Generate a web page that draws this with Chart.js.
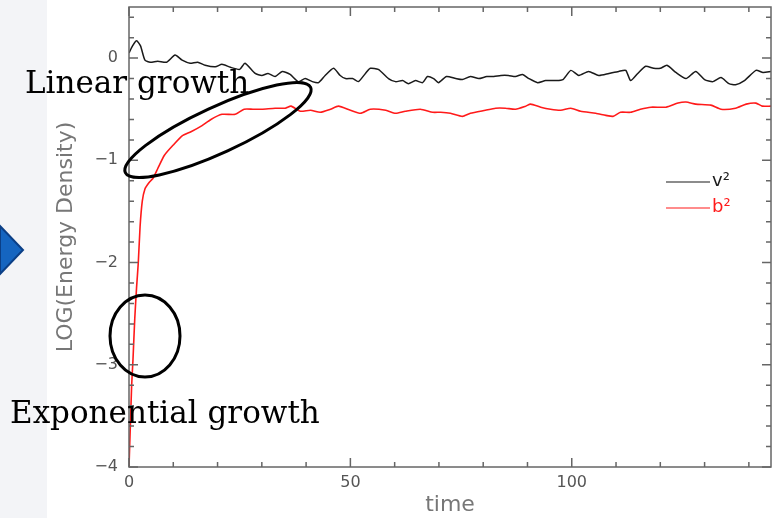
<!DOCTYPE html>
<html>
<head>
<meta charset="utf-8">
<script src="https://cdn.jsdelivr.net/npm/chart.js@4.4.0/dist/chart.umd.min.js"></script>
<style>
  html, body { margin: 0; padding: 0; background: #fff; }
</style>
</head>
<body>
<canvas id="chart" width="780" height="518"></canvas>
<script>
// data
const timeV = [0, 0.8, 1.7, 2.6, 3.6, 4.8, 6.5, 8.5, 10.4, 12, 13.8, 15.5, 17.2, 19.5, 21, 22.9, 25, 26.2, 28.5, 30,
  31.4, 33, 34.6, 36.4, 38.2, 39.8, 41.4, 42.8, 44.3, 46.2, 47.7, 48.9, 50.5, 51.8, 53.4, 54.5, 56.3, 58.6, 60.2, 61.8,
  63.1, 64.7, 66.3, 67.4, 68.8, 69.9, 71.7, 73.8, 75.3, 77.1, 79, 80.8, 82.4, 84, 85.7, 87.3, 88.9, 90.3, 92.3, 94.1,
  96.4, 98, 99.8, 101.6, 103.8, 106.1, 108.4, 110.6, 112.2, 113.3, 114.9, 116.7, 118.5, 120, 121.5, 123.5, 125.8, 128, 130, 131.9,
  133.7, 135.5, 137, 139, 141.6, 143.2, 145];
const energyV = [0.05, 0.12, 0.17, 0.12, -0.02, -0.04, -0.03, -0.04, 0.03, -0.02, -0.05, -0.04, -0.07, -0.085, -0.06, -0.09, -0.11, -0.05, -0.15, -0.17,
  -0.15, -0.18, -0.13, -0.16, -0.23, -0.2, -0.23, -0.24, -0.17, -0.1, -0.17, -0.2, -0.2, -0.23, -0.15, -0.1, -0.11, -0.2, -0.23, -0.22,
  -0.25, -0.22, -0.24, -0.18, -0.2, -0.24, -0.18, -0.2, -0.21, -0.18, -0.2, -0.18, -0.18, -0.17, -0.17, -0.18, -0.16, -0.2, -0.24, -0.22,
  -0.22, -0.21, -0.12, -0.17, -0.13, -0.17, -0.15, -0.13, -0.12, -0.22, -0.15, -0.08, -0.1, -0.1, -0.07, -0.14, -0.2, -0.13, -0.21, -0.23,
  -0.19, -0.25, -0.26, -0.22, -0.12, -0.14, -0.13];

const timeB = [0, 0.3, 0.6, 0.9, 1.3, 1.7, 2.1, 2.5, 3.0, 3.6, 4.5, 5.5, 6.5, 8, 10, 12, 14, 16.5, 18.5, 21,
  24, 26, 28, 30, 33, 35.3, 36.6, 38.7, 41, 43.2, 45.5, 47.3, 50, 52.3, 54.5, 58, 60.2, 62.4, 65.8, 68.6,
  70.4, 72.6, 75.3, 77.1, 80.5, 82.8, 85, 87.3, 89.6, 90.7, 93, 95.2, 97.5, 99.8, 102, 105.4, 107.7, 109.3, 111, 113.3,
  115.5, 117.9, 121.3, 124, 125.8, 128, 131.4, 133.7, 137, 139.4, 141.6, 143, 145];
const energyB = [-4.0, -3.6, -3.2, -2.95, -2.55, -2.25, -2.0, -1.65, -1.4, -1.28, -1.22, -1.17, -1.08, -0.95, -0.85, -0.76, -0.72, -0.66, -0.6, -0.55,
  -0.55, -0.5, -0.5, -0.5, -0.49, -0.49, -0.47, -0.52, -0.51, -0.53, -0.5, -0.47, -0.51, -0.54, -0.5, -0.51, -0.54, -0.52, -0.5, -0.53,
  -0.53, -0.54, -0.57, -0.54, -0.51, -0.49, -0.49, -0.5, -0.47, -0.45, -0.48, -0.5, -0.51, -0.49, -0.52, -0.54, -0.56, -0.57, -0.53, -0.53,
  -0.5, -0.48, -0.48, -0.44, -0.43, -0.45, -0.46, -0.5, -0.49, -0.45, -0.44, -0.47, -0.47];

const xTicks = [0, 50, 100];
const yTicks = [-4, -3, -2, -1, 0];
const seriesNames = ["v²", "b²"];
const seriesColors = ["#1a1a1a", "#ff1a1a"];
const notes = ["Linear growth", "Exponential growth"];

const axisColor = "#666";
const tickFont = { family: "DejaVu Sans", size: 16 };

function toPoints(xs, ys) {
  return xs.map((x, i) => ({ x: x, y: ys[i] }));
}

function noPad(s) {
  s.paddingTop = 0;
  s.paddingBottom = 0;
  s.paddingLeft = 0;
  s.paddingRight = 0;
}

// slide background bits on the left
const slideBack = {
  id: "slideBack",
  beforeDraw(chart) {
    const ctx = chart.ctx;
    ctx.save();
    ctx.fillStyle = "#f3f4f7";
    ctx.fillRect(0, 0, 47, chart.height);
    ctx.beginPath();
    ctx.moveTo(0, 226);
    ctx.lineTo(23, 250);
    ctx.lineTo(0, 274);
    ctx.closePath();
    ctx.fillStyle = "#1565c0";
    ctx.fill();
    ctx.strokeStyle = "#0b3f86";
    ctx.lineWidth = 2;
    ctx.stroke();
    ctx.restore();
  }
};

// IDL style frame with inward ticks on all sides
const frame = {
  id: "frame",
  afterDatasetsDraw(chart) {
    const ctx = chart.ctx;
    const { left, right, top, bottom } = chart.chartArea;
    const xs = chart.scales.x, ys = chart.scales.y;
    ctx.save();
    ctx.strokeStyle = axisColor;
    ctx.lineWidth = 1.5;
    ctx.strokeRect(left, top, right - left, bottom - top);
    ctx.beginPath();
    for (let t = 0; t <= xs.max; t += 10) {
      const px = xs.getPixelForValue(t);
      const len = t % 50 === 0 ? 9 : 5;
      ctx.moveTo(px, bottom); ctx.lineTo(px, bottom - len);
      ctx.moveTo(px, top); ctx.lineTo(px, top + len);
    }
    for (let k = -20; k <= 2; k++) {
      const py = ys.getPixelForValue(k / 5);
      const len = k % 5 === 0 ? 9 : 5;
      ctx.moveTo(left, py); ctx.lineTo(left + len, py);
      ctx.moveTo(right, py); ctx.lineTo(right - len, py);
    }
    ctx.stroke();

    // legend
    const items = [[182, 0], [208, 1]];
    ctx.font = "18px 'DejaVu Sans'";
    ctx.textBaseline = "middle";
    items.forEach(([y, i]) => {
      ctx.strokeStyle = seriesColors[i];
      ctx.lineWidth = 1.2;
      ctx.beginPath();
      ctx.moveTo(666, y); ctx.lineTo(710, y);
      ctx.stroke();
      ctx.fillStyle = seriesColors[i];
      ctx.fillText(seriesNames[i], 712, y - 1);
    });
    ctx.restore();
  }
};

// hand drawn slide notes
const slideNotes = {
  id: "slideNotes",
  afterDraw(chart) {
    const ctx = chart.ctx;
    ctx.save();
    ctx.strokeStyle = "#000";
    ctx.lineWidth = 3;
    ctx.beginPath();
    ctx.ellipse(218, 130, 102, 23, -24.7 * Math.PI / 180, 0, 2 * Math.PI);
    ctx.stroke();
    ctx.beginPath();
    ctx.ellipse(145, 336, 35, 41, 0, 0, 2 * Math.PI);
    ctx.stroke();

    ctx.fillStyle = "#000";
    ctx.textBaseline = "alphabetic";
    ctx.font = "31px 'DejaVu Serif'";
    ctx.fillText(notes[0], 25, 93);
    ctx.fillText(notes[1], 10, 423);
    ctx.restore();
  }
};

new Chart(document.getElementById("chart"), {
  type: "line",
  data: {
    datasets: [
      {
        label: seriesNames[0],
        data: toPoints(timeV, energyV),
        borderColor: seriesColors[0],
        borderWidth: 1.5,
        pointRadius: 0,
        tension: 0.2,
      },
      {
        label: seriesNames[1],
        data: toPoints(timeB, energyB),
        borderColor: seriesColors[1],
        borderWidth: 1.6,
        pointRadius: 0,
        tension: 0.2,
      },
    ],
  },
  options: {
    responsive: false,
    animation: false,
    devicePixelRatio: 1,
    layout: { padding: { left: 53, right: 9, top: 7, bottom: 0 } },
    plugins: {
      legend: { display: false },
      tooltip: { enabled: false },
    },
    scales: {
      x: {
        type: "linear",
        min: 0,
        max: 145,
        afterBuildTicks: (s) => { s.ticks = xTicks.map((v) => ({ value: v })); },
        afterFit: (s) => { s.height = 51; noPad(s); },
        grid: { display: false, drawTicks: false },
        border: { display: false },
        ticks: { color: "#555", font: tickFont, padding: 6, maxRotation: 0 },
        title: { display: true, text: "time", color: "#777", font: { family: "DejaVu Sans", size: 22 }, padding: { top: 0, bottom: 0 } },
      },
      y: {
        type: "linear",
        min: -4,
        max: 0.5,
        afterBuildTicks: (s) => { s.ticks = yTicks.map((v) => ({ value: v })); },
        afterFit: (s) => { s.width = 76; noPad(s); },
        grid: { display: false, drawTicks: false },
        border: { display: false },
        ticks: {
          color: "#555",
          font: tickFont,
          padding: 11,
          callback: (v) => (v < 0 ? "\u2212" + Math.abs(v) : String(v)),
        },
        title: { display: true, text: "LOG(Energy Density)", color: "#777", font: { family: "DejaVu Sans", size: 22 }, padding: { top: 0, bottom: 0 } },
      },
    },
  },
  plugins: [slideBack, frame, slideNotes],
});
</script>
</body>
</html>
